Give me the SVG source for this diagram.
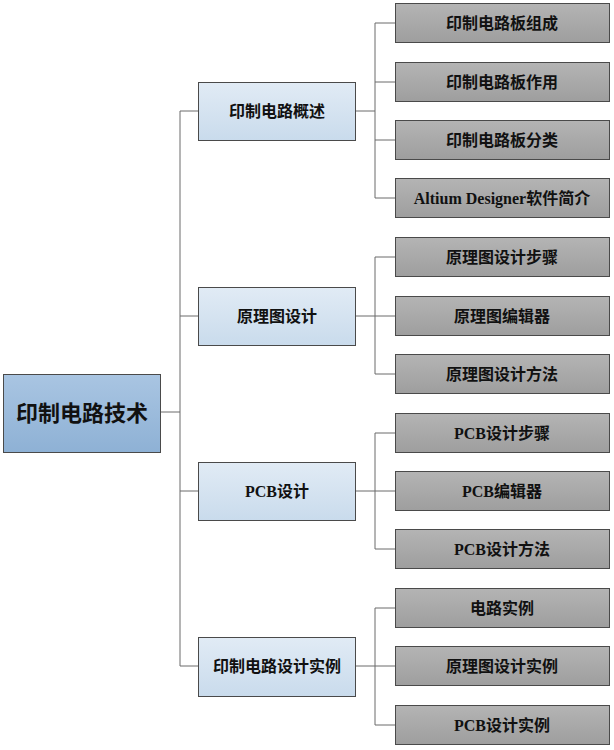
<svg xmlns="http://www.w3.org/2000/svg" width="614" height="750" viewBox="0 0 614 750">
<defs>
<linearGradient id="gRoot" x1="0" y1="0" x2="0" y2="1"><stop offset="0" stop-color="#a9c5e2"/><stop offset="1" stop-color="#8eb1d5"/></linearGradient>
<linearGradient id="gMid" x1="0" y1="0" x2="0" y2="1"><stop offset="0" stop-color="#e1ebf5"/><stop offset="1" stop-color="#c9dbec"/></linearGradient>
<linearGradient id="gLeaf" x1="0" y1="0" x2="0" y2="1"><stop offset="0" stop-color="#b4b4b4"/><stop offset="1" stop-color="#9e9e9e"/></linearGradient>
<style>
.box{stroke:#4a4a4a;stroke-width:1}
.root{fill:url(#gRoot)}
.mid{fill:url(#gMid)}
.leaf{fill:url(#gLeaf)}
.t{font-family:"Liberation Serif","Noto Sans CJK SC",serif;font-weight:bold;fill:#111;text-anchor:middle;dominant-baseline:central}
.t16{font-size:16px}
.t21{font-size:22px}
.c{fill:none;stroke:#6b6b6b;stroke-width:1}
</style>
</defs>
<g id="connectors">
<path class="c" d="M160 412H180M180 111V666M180 111H198M180 316H198M180 491H198M180 666H198"/>
<path class="c" d="M355 111H375M375 23V198M375 23H395M375 82H395M375 140H395M375 198H395"/>
<path class="c" d="M355 316H375M375 257V374M375 257H395M375 316H395M375 374H395"/>
<path class="c" d="M355 491H375M375 433V549M375 433H395M375 491H395M375 549H395"/>
<path class="c" d="M355 666H375M375 608V725M375 608H395M375 666H395M375 725H395"/>
</g>
<g id="root"><rect class="box root" x="3.5" y="374.5" width="157" height="78"/><text class="t t21" x="82" y="413">印制电路技术</text></g>
<g id="m1"><rect class="box mid" x="198.5" y="82.5" width="157" height="58"/><text class="t t16" x="277" y="111">印制电路概述</text></g>
<g id="m2"><rect class="box mid" x="198.5" y="287.5" width="157" height="58"/><text class="t t16" x="277" y="316">原理图设计</text></g>
<g id="m3"><rect class="box mid" x="198.5" y="462.5" width="157" height="58"/><text class="t t16" x="277" y="491">PCB设计</text></g>
<g id="m4"><rect class="box mid" x="198.5" y="637.5" width="157" height="59"/><text class="t t16" x="277" y="666">印制电路设计实例</text></g>
<g id="l1"><rect class="box leaf" x="395.5" y="3.5" width="214" height="39"/><text class="t t16" x="502" y="23">印制电路板组成</text></g>
<g id="l2"><rect class="box leaf" x="395.5" y="62.5" width="214" height="39"/><text class="t t16" x="502" y="82">印制电路板作用</text></g>
<g id="l3"><rect class="box leaf" x="395.5" y="120.5" width="214" height="39"/><text class="t t16" x="502" y="140">印制电路板分类</text></g>
<g id="l4"><rect class="box leaf" x="395.5" y="178.5" width="214" height="39"/><text class="t t16" x="502" y="198">Altium Designer软件简介</text></g>
<g id="l5"><rect class="box leaf" x="395.5" y="237.5" width="214" height="39"/><text class="t t16" x="502" y="257">原理图设计步骤</text></g>
<g id="l6"><rect class="box leaf" x="395.5" y="296.5" width="214" height="39"/><text class="t t16" x="502" y="316">原理图编辑器</text></g>
<g id="l7"><rect class="box leaf" x="395.5" y="354.5" width="214" height="39"/><text class="t t16" x="502" y="374">原理图设计方法</text></g>
<g id="l8"><rect class="box leaf" x="395.5" y="413.5" width="214" height="39"/><text class="t t16" x="502" y="433">PCB设计步骤</text></g>
<g id="l9"><rect class="box leaf" x="395.5" y="471.5" width="214" height="39"/><text class="t t16" x="502" y="491">PCB编辑器</text></g>
<g id="l10"><rect class="box leaf" x="395.5" y="529.5" width="214" height="39"/><text class="t t16" x="502" y="549">PCB设计方法</text></g>
<g id="l11"><rect class="box leaf" x="395.5" y="588.5" width="214" height="39"/><text class="t t16" x="502" y="608">电路实例</text></g>
<g id="l12"><rect class="box leaf" x="395.5" y="646.5" width="214" height="39"/><text class="t t16" x="502" y="666">原理图设计实例</text></g>
<g id="l13"><rect class="box leaf" x="395.5" y="705.5" width="214" height="39"/><text class="t t16" x="502" y="725">PCB设计实例</text></g>
</svg>
